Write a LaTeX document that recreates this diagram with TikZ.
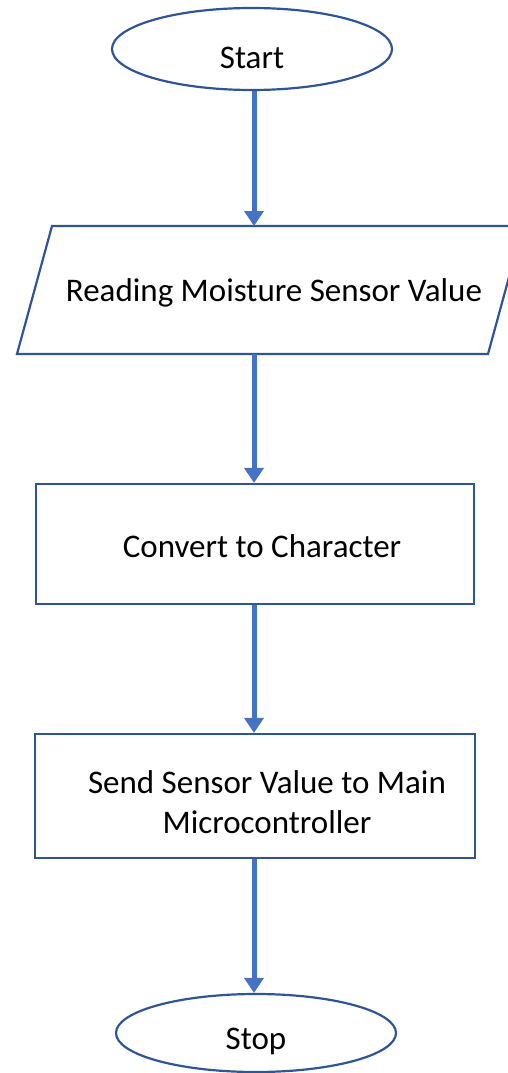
\documentclass[tikz,border=0pt]{standalone}
\usepackage{fontspec}
\setmainfont{Carlito}
\usetikzlibrary{shapes.geometric,arrows.meta}
\definecolor{edge}{HTML}{2F5597}
\definecolor{arr}{HTML}{4472C4}
\begin{document}
\begin{tikzpicture}[x=1pt,y=-1pt,
  every node/.style={font=\fontsize{33}{40}\selectfont},
  term/.style={ellipse,draw=edge,line width=2.2pt,minimum width=280pt,inner sep=0pt},
  proc/.style={rectangle,draw=edge,line width=2.2pt,align=center},
  flow/.style={draw=arr,line width=5pt,-{Triangle[width=19pt,length=15pt]}}]
\useasboundingbox (0,0) rectangle (507,1073);
\node[term,minimum height=82pt] (start) at (252,49) {\raisebox{-9pt}[\height][\depth]{Start}};
\coordinate (ptl) at (52,226);
\coordinate (ptr) at (523,226);
\coordinate (pbr) at (488,354);
\coordinate (pbl) at (17,354);
\draw[edge,line width=2.2pt] (ptl) -- (ptr) -- (pbr) -- (pbl) -- cycle;
\node (read) at (274,293) {Reading Moisture Sensor Value};
\coordinate (readtop) at (254,226);
\coordinate (readbot) at (254,354);
\node[proc,minimum width=438pt,minimum height=120pt] (conv) at (255,544) {\hspace*{14pt}\raisebox{-2pt}[\height][\depth]{Convert to Character}};
\node[proc,minimum width=440pt,minimum height=124pt,
  label={[align=center,xshift=12pt,yshift=-6pt]center:Send Sensor Value to Main\\Microcontroller}] (send) at (255,796) {};
\node[term,minimum height=78pt] (stop) at (256,1033) {\raisebox{-8pt}[\height][\depth]{Stop}};
\draw[flow] (start.south -| readtop) -- (readtop);
\draw[flow] (readbot) -- (conv.north -| readbot);
\draw[flow] (conv.south -| readbot) -- (send.north -| readbot);
\draw[flow] (send.south -| readbot) -- (stop.north -| readbot);
\end{tikzpicture}
\end{document}
